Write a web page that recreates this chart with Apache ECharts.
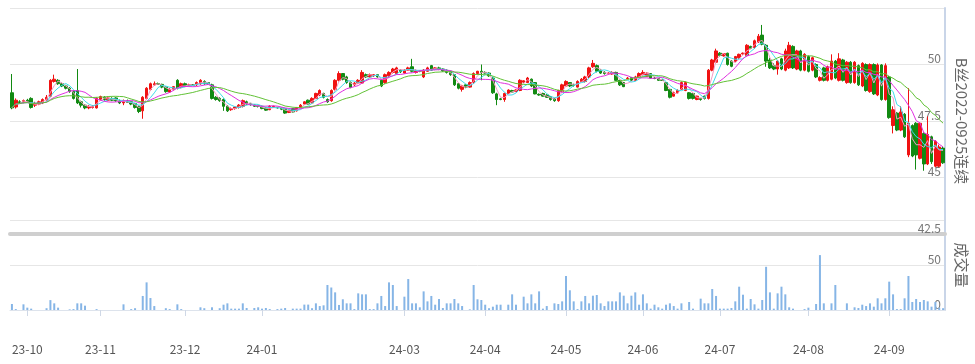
<!DOCTYPE html>
<html><head><meta charset="utf-8">
<script src="https://cdn.jsdelivr.net/npm/echarts/dist/echarts.min.js"></script>
<style>html,body{margin:0;padding:0;background:#fff}#c{width:975px;height:364px}</style>
</head><body><div id="c"></div>
<script>
const monthLabels = ['23-09','23-10','23-11','23-12','24-01','24-02','24-03','24-04','24-05','24-06','24-07','24-08','24-09'];
const monthDays   = [4,19,22,20,22,15,21,21,20,20,23,21,15];
const hiddenMonthLabels = ['23-09','24-02'];
const priceAxisName = 'B丝2022-0925连续';
const volumeAxisName = '成交量';
const maPeriods = [3,5,10,20];

const openP = [
48.75,48.12,48.35,48.33,48.42,48.5,48.2,48.25,48.3,48.45,
48.6,49.25,49.3,49.15,49.05,48.95,48.82,48.85,48.35,48.2,
48.08,48.1,48.08,48.45,48.55,48.42,48.5,48.52,48.4,48.3,
48.4,48.35,48.28,48.15,47.95,48.5,48.9,49.1,49.15,49.12,
49.0,48.78,48.9,49.3,49.0,49.15,49.08,49.1,49.1,49.15,
49.25,49.2,49.1,48.55,48.5,48.45,48.15,48.0,48.05,48.1,
48.15,48.35,48.28,48.22,48.18,48.15,48.08,48.0,48.12,48.1,
48.08,48.05,47.88,48.05,47.95,48.1,48.25,48.42,48.3,48.5,
48.65,48.72,48.45,48.4,48.9,49.3,49.6,49.45,49.2,49.1,
49.18,49.18,49.55,49.45,49.5,49.55,49.3,49.2,49.5,49.65,
49.6,49.75,49.62,49.75,49.9,49.65,49.7,49.45,49.7,49.95,
49.78,49.85,49.8,49.75,49.7,49.55,49.15,48.9,49.1,49.0,
49.2,49.6,49.7,49.65,49.62,49.4,48.7,48.48,48.45,48.72,
48.85,48.8,48.85,49.22,49.2,49.35,49.2,48.68,48.72,48.65,
48.58,48.5,48.4,48.8,49.05,49.2,49.1,49.0,49.25,49.25,
49.45,49.9,49.95,49.75,49.65,49.6,49.58,49.65,49.3,49.2,
49.38,49.42,49.3,49.45,49.55,49.48,49.6,49.4,49.38,49.32,
49.2,48.9,48.6,48.75,48.9,48.85,48.75,48.72,48.45,48.5,
48.6,48.5,49.75,50.1,50.5,50.38,50.5,50.15,50.13,50.3,
50.47,50.4,50.8,50.75,51.0,51.3,50.85,50.2,49.95,49.8,
50.25,49.75,49.85,50.8,49.8,50.6,49.75,50.35,49.75,50.0,
49.3,49.85,49.3,49.35,50.15,49.3,50.2,49.2,50.1,49.2,
49.95,49.05,50.0,48.8,50.0,48.65,49.98,48.45,49.45,47.3,
47.85,47.1,47.8,46.0,47.3,47.4,45.85,46.95,45.6,46.8,
45.5,45.5,46.3];
const closeP = [
48.08,48.42,48.32,48.4,48.35,48.1,48.28,48.35,48.45,48.55,
49.3,49.35,49.15,49.05,48.95,48.8,48.5,48.3,48.2,48.08,
48.15,48.15,48.5,48.58,48.45,48.52,48.42,48.4,48.3,48.4,
48.32,48.25,48.1,47.92,48.55,48.95,49.15,49.15,49.12,49.0,
48.8,48.9,49.02,48.95,49.15,49.05,49.1,49.08,49.2,49.3,
49.15,49.15,48.5,48.45,48.4,48.15,47.95,48.05,48.12,48.2,
48.4,48.25,48.22,48.15,48.15,48.05,47.98,48.15,48.15,48.08,
48.02,47.85,47.98,47.9,48.1,48.2,48.35,48.25,48.5,48.72,
48.85,48.55,48.35,48.85,49.3,49.6,49.35,49.2,48.98,49.18,
49.3,49.65,49.45,49.55,49.55,49.45,49.05,49.55,49.65,49.8,
49.85,49.68,49.75,49.85,49.7,49.72,49.7,49.75,49.85,49.75,
49.85,49.78,49.72,49.65,49.55,49.1,48.95,49.05,49.0,49.2,
49.6,49.7,49.65,49.62,49.5,48.75,48.45,48.45,48.72,48.87,
48.78,48.87,49.3,49.28,49.4,49.05,48.7,48.65,48.6,48.55,
48.45,48.4,48.85,49.1,49.25,49.05,49.08,49.25,49.35,49.45,
49.85,50.05,49.7,49.62,49.6,49.62,49.65,49.3,49.1,49.02,
49.4,49.3,49.45,49.6,49.65,49.62,49.4,49.38,49.3,49.3,
48.85,48.55,48.75,48.85,49.2,49.2,48.5,48.5,48.6,48.45,
48.5,49.75,50.2,50.6,50.4,50.48,50.0,49.92,50.35,50.45,
50.5,50.85,50.72,51.05,51.25,50.9,50.15,49.85,49.8,50.15,
49.8,50.6,50.85,49.85,50.6,49.75,50.45,49.7,50.3,49.45,
49.42,49.3,49.9,50.15,49.4,50.25,49.3,50.1,49.2,50.1,
49.1,50.05,48.85,50.0,48.7,49.98,48.45,49.95,47.65,48.0,
47.1,47.9,46.8,47.4,45.95,46.0,47.4,45.6,46.9,45.7,
46.6,46.35,45.65];
const highP = [
49.58,48.5,48.42,48.45,48.48,48.55,48.35,48.4,48.5,48.65,
49.35,49.55,49.35,49.2,49.1,49.0,48.85,49.8,48.4,48.25,
48.2,48.2,48.55,48.62,48.6,48.58,48.55,48.55,48.45,48.45,
48.45,48.38,48.3,48.18,48.6,49.0,49.2,49.25,49.2,49.15,
49.02,48.95,49.05,49.35,49.2,49.2,49.15,49.12,49.25,49.35,
49.3,49.22,49.15,48.6,48.55,48.5,48.2,48.1,48.15,48.25,
48.45,48.4,48.3,48.25,48.22,48.18,48.1,48.2,48.18,48.12,
48.1,48.08,48.0,48.08,48.12,48.25,48.38,48.45,48.55,48.75,
48.9,48.75,48.5,48.9,49.35,49.7,49.62,49.5,49.25,49.22,
49.35,49.75,49.6,49.6,49.58,49.58,49.35,49.6,49.7,49.85,
49.9,49.8,49.8,49.9,50.25,49.78,49.74,49.8,49.9,49.98,
49.88,49.9,49.83,49.78,49.72,49.58,49.18,49.1,49.12,49.25,
49.65,49.72,50.0,49.7,49.65,49.45,48.75,48.52,48.75,48.9,
48.88,48.9,49.35,49.3,49.45,49.38,49.22,48.72,48.75,48.68,
48.6,48.52,48.88,49.15,49.3,49.22,49.15,49.3,49.4,49.5,
49.9,50.2,50.0,49.78,49.7,49.66,49.7,49.68,49.32,49.22,
49.45,49.45,49.5,49.65,49.75,49.65,49.62,49.43,49.4,49.35,
49.22,48.92,48.8,48.9,49.25,49.25,48.78,48.75,48.62,48.52,
48.62,49.8,50.25,50.7,50.55,50.5,50.52,50.18,50.38,50.48,
50.53,50.9,50.83,51.1,51.35,51.75,50.9,50.3,50.05,50.2,
50.3,50.7,51.0,50.85,50.65,50.65,50.5,50.4,50.35,50.05,
49.48,49.9,49.95,50.45,50.2,50.5,50.25,50.15,50.15,50.15,
50.0,50.1,50.05,50.05,50.05,50.05,50.02,50.05,49.5,48.15,
47.9,48.15,47.85,48.95,47.35,47.45,47.45,47.0,47.7,46.85,
46.65,46.45,46.35];
const lowP = [
48.02,48.05,48.25,48.28,48.3,48.05,48.12,48.2,48.25,48.4,
48.55,49.2,49.1,49.0,48.9,48.75,48.45,48.25,48.1,48.02,
48.02,48.05,48.05,48.4,48.4,48.38,48.38,48.35,48.25,48.2,
48.3,48.2,48.05,47.85,47.6,48.45,48.85,49.05,49.1,48.95,
48.75,48.75,48.85,48.9,48.95,49.0,49.05,49.05,49.05,49.1,
49.1,49.1,48.45,48.4,48.35,47.95,47.9,47.95,48.0,48.05,
48.1,48.2,48.18,48.12,48.1,48.02,47.95,47.98,48.08,48.05,
47.98,47.82,47.85,47.88,47.92,48.05,48.22,48.22,48.28,48.48,
48.6,48.5,48.3,48.35,48.85,49.25,49.3,49.15,48.95,49.05,
49.15,49.15,49.4,49.4,49.45,49.42,49.0,49.15,49.45,49.6,
49.55,49.62,49.6,49.72,49.65,49.6,49.66,49.4,49.68,49.72,
49.75,49.75,49.68,49.6,49.5,49.05,48.9,48.8,48.95,48.98,
49.15,49.55,49.3,49.6,49.45,48.7,48.2,48.42,48.35,48.7,
48.75,48.78,48.82,49.2,49.18,49.0,48.68,48.62,48.58,48.52,
48.4,48.35,48.35,48.78,49.02,49.0,49.02,48.98,49.22,49.2,
49.4,49.85,49.65,49.58,49.55,49.56,49.55,49.28,49.05,49.0,
49.35,49.28,49.28,49.42,49.52,49.45,49.38,49.35,49.28,49.28,
48.82,48.5,48.58,48.7,48.88,48.82,48.45,48.45,48.42,48.4,
48.45,48.45,49.7,50.05,50.35,50.35,49.95,49.88,50.1,50.25,
50.44,50.35,50.68,50.7,50.95,50.85,49.9,49.8,49.75,49.55,
49.75,49.7,49.8,49.8,49.75,49.7,49.7,49.65,49.7,49.4,
49.25,49.25,49.25,49.3,49.35,49.25,49.25,49.15,49.15,49.15,
49.05,49.0,48.8,48.75,48.65,48.6,48.4,48.4,47.6,46.95,
47.05,47.05,46.75,45.9,45.9,45.35,45.8,45.3,45.55,45.6,
45.45,45.45,45.6];
const volume = [
6.7,1,0,6.3,2.6,1.5,0,0,0,2,
11,7.4,2.6,0,0,0.7,1,7.4,7.4,4.8,
0,0,1,0,0,0,0,0,0,6.3,
0,1,2,0,15.6,30.7,13.3,4.4,0,0,
2,1,0,6.3,1,0,0,0,0,3,
2,0,3,0,2,5.9,7.4,1.5,1.5,1.5,
7.4,2.2,0,2.2,3,1.5,2.2,1,0,1,
1.5,2.2,0,1.5,1.5,1.5,6,6,2,7.4,
4.4,5.2,27.8,25,19.6,5.6,11.9,7.4,7.4,1,
18.5,17.4,17.4,1,1,7.4,15.6,4.4,30.7,27.8,
4.4,0,14.8,34.4,7.4,7.4,3,20.7,9.6,15.6,
5.9,12.2,2.2,7.4,7.4,12.2,7.4,4.4,0,0.7,
27.8,11.9,11.1,5.9,2,3.7,5.9,5.9,0,5.9,
17.4,5.9,0,14.8,7.4,17.4,7.4,20.7,1.5,4.4,
0,7.4,6.7,9.6,37.8,21.9,9.6,1,9.6,15.6,
7.4,15.9,16.7,7.4,4.4,9.6,9.6,9.6,19.6,15.9,
7.4,15.9,19.6,5.9,17.4,7.4,1.5,5.9,3,1.5,
5.9,7.4,4.4,1.5,7.4,0,8.9,1.5,0,12.6,
7.4,7.4,23.3,15.6,1.5,1.5,1.5,2.2,9.6,25.9,
17,1.5,12.2,6.3,1.5,11.1,48,19.6,1.5,18.5,
25.9,17.4,3,1.5,0,0,1,2.6,0,6.7,
61,7.4,0,7.4,27.8,0,0,7.4,0,3,
2.2,5.9,4.4,7.4,3.7,13,7.4,13,31.5,17.4,
1,1,13,37.8,8.9,12.2,8.9,11.1,9.6,3.7,
8.9,2.6,2];

// build categories from month list
const categories = [];
monthLabels.forEach((m, mi) => { for (let d = 1; d <= monthDays[mi]; d++) categories.push(m + '/' + d); });
const isMonthTick = (idx, val) => { const p = String(val).split('/'); return p[1] === '1' && hiddenMonthLabels.indexOf(p[0]) < 0; };

function movingAvg(n) {
  return closeP.map((_, i) => {
    const s = Math.max(0, i - n + 1); let sum = 0;
    for (let k = s; k <= i; k++) sum += closeP[k];
    return +(sum / (i - s + 1)).toFixed(3);
  });
}
const candleData = openP.map((o, i) => [o, closeP[i], lowP[i], highP[i]]);
const maColors = ['#f59ac6', '#3fdcec', '#e030e0', '#62c236'];
const font = '"Noto Sans CJK SC", "Noto Sans", sans-serif';

const chart = echarts.init(document.getElementById('c'), null, {renderer: 'canvas'});
chart.setOption({
  animation: false,
  backgroundColor: '#fff',
  textStyle: {fontFamily: font},
  grid: [
    {left: 10, right: 30, top: 8, bottom: 130, outerBoundsMode: 'none'},
    {left: 10, right: 30, top: 220, bottom: 54, outerBoundsMode: 'none'}
  ],
  xAxis: [
    {type: 'category', gridIndex: 0, data: categories, boundaryGap: true,
     axisLine: {show: true, lineStyle: {color: '#cfcfcf', width: 4}},
     axisTick: {show: false}, axisLabel: {show: false}, splitLine: {show: false}},
    {type: 'category', gridIndex: 1, data: categories, boundaryGap: true, offset: 23,
     axisLine: {show: true, lineStyle: {color: '#dde3ec', width: 1}},
     axisTick: {show: true, alignWithLabel: true, interval: isMonthTick, length: 6, lineStyle: {color: '#cfd8e6'}},
     axisLabel: {show: true, interval: isMonthTick, formatter: v => v.split('/')[0], color: '#555', fontSize: 12, margin: 10, fontFamily: font},
     splitLine: {show: false}}
  ],
  yAxis: [
    {type: 'value', gridIndex: 0, position: 'right', min: 42.5, max: 52.5, interval: 2.5,
     name: priceAxisName, nameLocation: 'middle', nameRotate: -90, nameGap: 9,
     nameTextStyle: {color: '#666', fontSize: 15, fontFamily: font},
     axisLine: {show: true, lineStyle: {color: '#c9d5e8', width: 2}},
     axisTick: {show: false},
     axisLabel: {inside: true, verticalAlign: 'bottom', margin: 4, color: '#777', fontSize: 12, showMaxLabel: false, fontFamily: font},
     splitLine: {show: true, lineStyle: {color: '#e6e6e6', width: 1}}},
    {type: 'value', gridIndex: 1, position: 'right', min: 0, max: 100, interval: 50,
     name: volumeAxisName, nameLocation: 'middle', nameRotate: -90, nameGap: 9,
     nameTextStyle: {color: '#666', fontSize: 15, fontFamily: font},
     axisLine: {show: true, lineStyle: {color: '#c9d5e8', width: 2}},
     axisTick: {show: false},
     axisLabel: {inside: true, verticalAlign: 'bottom', margin: 4, color: '#777', fontSize: 12, showMaxLabel: false, fontFamily: font},
     splitLine: {show: true, lineStyle: {color: '#e6e6e6', width: 1}}}
  ],
  series: [
    {type: 'bar', xAxisIndex: 1, yAxisIndex: 1, data: volume, barWidth: 2,
     itemStyle: {color: '#86b5e6'}, silent: true},
    {type: 'candlestick', xAxisIndex: 0, yAxisIndex: 0, data: candleData, barWidth: 3,
     itemStyle: {color: '#f01212', color0: '#128a12', borderColor: '#f01212', borderColor0: '#128a12', borderWidth: 1}},
    ...maPeriods.map((p, k) => ({
      type: 'line', xAxisIndex: 0, yAxisIndex: 0, data: movingAvg(p), symbol: 'none', smooth: false,
      lineStyle: {color: maColors[k], width: 1}, z: 3, silent: true
    }))
  ]
});
</script>
</body></html>
